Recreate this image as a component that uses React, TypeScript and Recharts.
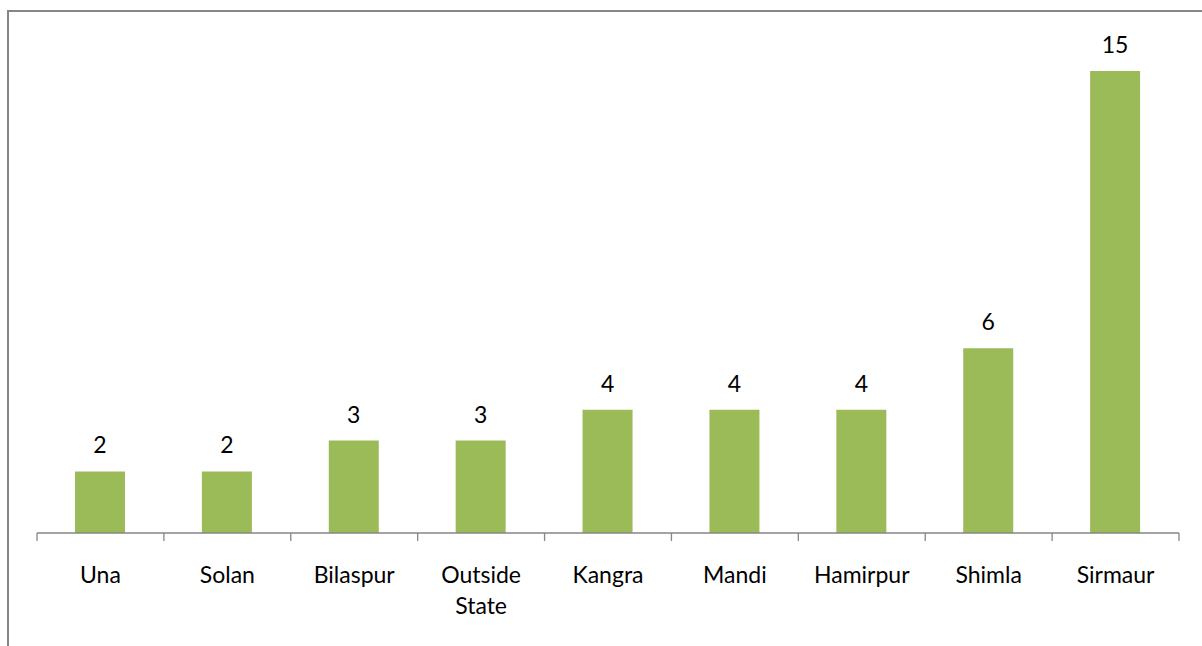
import { BarChart, Bar, XAxis, YAxis, LabelList } from "recharts";

const districts = ["Una", "Solan", "Bilaspur", "Outside State", "Kangra", "Mandi", "Hamirpur", "Shimla", "Sirmaur"];
const counts = [2, 2, 3, 3, 4, 4, 4, 6, 15];

const data = districts.map((name, i) => ({ name, count: counts[i] }));

const W = 1202;
const H = 646;
const M = { top: 71, right: 23, bottom: 0, left: 37 };
const AXIS_H = 113;
const band = (W - M.left - M.right) / districts.length;

const axisGray = "#868686";
const barGreen = "#9BBB59";
const font = "Lato, 'Open Sans', sans-serif";

// tick marks sit on the category boundaries, labels centred underneath
function CategoryTick(props: any) {
  const { x, y, payload, index } = props;
  const words = String(payload.value).split(" ");
  const last = index === districts.length - 1;
  return (
    <g>
      <line x1={x - band / 2} x2={x - band / 2} y1={y} y2={y + 8} stroke={axisGray} strokeWidth={1.3} />
      {last && <line x1={x + band / 2} x2={x + band / 2} y1={y} y2={y + 8} stroke={axisGray} strokeWidth={1.3} />}
      <text x={x} y={y + 50} textAnchor="middle" fill="#000" fontSize={23} fontFamily={font}>
        {words.map((w, i) => (
          <tspan key={w} x={x} dy={i === 0 ? 0 : 31}>
            {w}
          </tspan>
        ))}
      </text>
    </g>
  );
}

export default function App() {
  return (
    <div style={{ position: "absolute", left: 0, top: 0, width: W, height: H, background: "#fff", overflow: "hidden" }}>
      <div
        style={{
          position: "absolute",
          left: 7,
          top: 10,
          width: W + 50,
          height: H + 50,
          borderLeft: `2px solid ${axisGray}`,
          borderTop: `2px solid ${axisGray}`,
        }}
      />
      <div style={{ position: "absolute", left: 0, top: 0 }}>
        <BarChart width={W} height={H} data={data} margin={M}>
          <XAxis
            dataKey="name"
            interval={0}
            tickLine={false}
            tickSize={0}
            tickMargin={0}
            axisLine={{ stroke: axisGray, strokeWidth: 1.3 }}
            tick={<CategoryTick />}
            height={AXIS_H}
          />
          <YAxis hide domain={[0, 15]} />
          <Bar dataKey="count" fill={barGreen} barSize={50} isAnimationActive={false}>
            <LabelList dataKey="count" position="top" offset={18} fill="#000" fontSize={23} fontFamily={font} />
          </Bar>
        </BarChart>
      </div>
    </div>
  );
}
